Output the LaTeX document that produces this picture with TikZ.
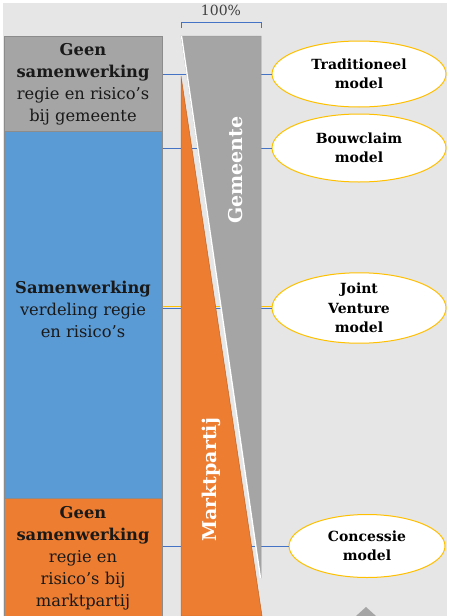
\documentclass[tikz,border=0pt]{standalone}
\usepackage{fontspec}
\setmainfont{DejaVu Serif}
\usetikzlibrary{positioning,shapes.geometric}
\definecolor{PanelGray}{RGB}{231,230,230}
\definecolor{GemeenteGray}{RGB}{165,165,165}
\definecolor{SamenBlue}{RGB}{91,155,213}
\definecolor{MarktOrange}{RGB}{237,125,49}
\definecolor{LinkBlue}{RGB}{68,114,196}
\definecolor{RimGold}{RGB}{255,192,0}
\begin{document}
\begin{tikzpicture}[x=1pt, y=-1pt, every node/.style={align=center},
    column/.style={draw=black!45, line width=0.6pt, minimum width=158pt,
      anchor=north west, inner sep=0pt},
    columntext/.style={font=\fontsize{16.3}{22}\selectfont, text=black!90},
    model/.style={ellipse, draw=RimGold, line width=1pt, fill=white,
      inner sep=0pt, font=\bfseries\fontsize{14}{19.5}\selectfont},
    link/.style={LinkBlue, line width=0.6pt},
    sidelabel/.style={rotate=90, text=white, font=\bfseries\fontsize{19}{22}\selectfont}]
  \useasboundingbox (0,0) rectangle (451,616);
  \fill[white] (0,0) rectangle (451,616);
  \fill[PanelGray] (3,3) rectangle (447,616);

  % left columns
  \node[column, fill=GemeenteGray, minimum height=95pt] (geen) at (4,36) {};
  \node[column, fill=SamenBlue, minimum height=367pt] (samen) at (4,131) {};
  \node[column, fill=MarktOrange, minimum height=118pt] (markt) at (4,498) {};
  \node[columntext] (geentext) at (83,84)
    {\textbf{Geen}\\\textbf{samenwerking}\\regie en risico's\\bij gemeente};
  \node[columntext] (samentext) at (83,309)
    {\textbf{Samenwerking}\\verdeling regie\\en risico's};
  \node[columntext] (markttext) at (83,558)
    {\textbf{Geen}\\\textbf{samenwerking}\\regie en\\risico's bij\\marktpartij};

  % models
  \node[model, minimum width=174pt, minimum height=66pt] (trad) at (359,74) {Traditioneel\\model};
  \node[model, minimum width=174pt, minimum height=68pt] (bouw) at (359,148) {Bouwclaim\\model};
  \node[model, minimum width=174pt, minimum height=67pt] (joint) at (359,308) {Joint\\Venture\\model};
  \node[model, minimum width=156pt, minimum height=63pt] (conc) at (367,546) {Concessie\\model};

  \draw[link] (geen.east |- trad) -- (trad.west);
  \draw[link] (samen.east |- bouw) -- (bouw.west);
  \draw[RimGold, line width=0.6pt] ([yshift=1.8pt]samen.east |- joint) -- ([yshift=1.8pt]joint.west);
  \draw[link] (samen.east |- joint) -- (joint.west);
  \draw[link] (markt.east |- conc) -- (conc.west);

  % share wedges
  \filldraw[MarktOrange, draw=MarktOrange!80!black, line width=0.5pt]
    (181,76) -- (262,616) -- (181,616) -- cycle;
  \filldraw[GemeenteGray, draw=black!40, line width=0.5pt]
    (181,36) -- (261,36) -- (261,578) -- cycle;
  \draw[white, line width=1.4pt] (181.5,36) -- (260.5,578);
  \node[sidelabel] (gemlabel) at (236,170) {Gemeente};
  \node[sidelabel] (marktlabel) at (211,480) {Marktpartij};

  % 100% bracket
  \coordinate (bl) at (181,28);
  \coordinate (br) at (261,28);
  \draw[link] (bl) -- ++(0,-6) -| (br);
  \node[font=\fontsize{14}{16}\selectfont, text=black!75] (full) at (221,10) {100\%};

  \fill[GemeenteGray] (366,607) -- (376,616) -- (356,616) -- cycle;
\end{tikzpicture}
\end{document}
